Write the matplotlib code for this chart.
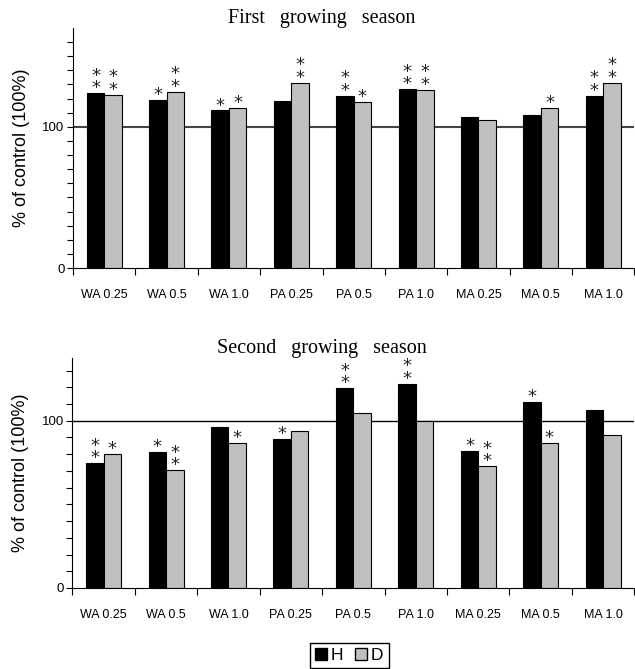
import matplotlib
matplotlib.use('Agg')
from matplotlib import pyplot as plt
from matplotlib.patches import Patch
import numpy as np

# treatments and values (% of control)
labels = ['WA 0.25', 'WA 0.5', 'WA 1.0', 'PA 0.25', 'PA 0.5', 'PA 1.0',
          'MA 0.25', 'MA 0.5', 'MA 1.0']

first_H = [123.8, 119.3, 111.6, 118.2, 121.9, 126.7, 106.8, 108.7, 121.9]
first_D = [122.9, 124.8, 113.2, 131.4, 117.9, 126.4, 104.7, 113.2, 131.4]
first_H_sig = ['**', '*', '*', '', '**', '**', '', '', '**']
first_D_sig = ['**', '**', '*', '**', '*', '**', '', '*', '**']

second_H = [74.7, 81.2, 96.4, 89.2, 119.4, 122.0, 82.0, 111.4, 106.6]
second_D = [80.2, 70.5, 86.6, 93.8, 104.8, 100.0, 72.9, 86.6, 91.4]
second_H_sig = ['**', '*', '', '*', '**', '**', '*', '*', '']
second_D_sig = ['*', '**', '*', '', '', '', '**', '*', '']

sans = ['Liberation Sans Narrow', 'Liberation Sans', 'DejaVu Sans']
plt.rcParams['font.family'] = ['Liberation Sans', 'DejaVu Sans']

fig = plt.figure(figsize=(6.35, 6.69), dpi=100)
ax1 = fig.add_axes([0.115, 0.5994, 0.884, 0.3587])
ax2 = fig.add_axes([0.114, 0.1211, 0.885, 0.3438])

x = np.arange(len(labels))
w = 0.28


def draw(ax, H, D, Hs, Ds, top, title, title_y, hline_color, hline_lw):
    ax.bar(x - w / 2, H, w, color='black', edgecolor='black', linewidth=0.8)
    ax.bar(x + w / 2, D, w, color='#c0c0c0', edgecolor='black', linewidth=0.8)
    ax.axhline(100, color=hline_color, linewidth=hline_lw, zorder=0.5)
    for xs, vals, sig in [(x - w / 2, H, Hs), (x + w / 2, D, Ds)]:
        for xi, v, s in zip(xs, vals, sig):
            if s:
                ax.annotate('\n'.join(s), (xi, v), xytext=(0, -3),
                            textcoords='offset points', ha='center',
                            va='bottom', fontsize=13, linespacing=0.62,
                            color='#222222', family=['DejaVu Sans'])
    ax.set_xlim(-0.5, len(labels) - 0.5)
    ax.set_ylim(0, top)
    ax.spines['top'].set_visible(False)
    ax.spines['right'].set_visible(False)
    ax.set_yticks([0, 100])
    ax.set_yticks(np.arange(10, top, 10), minor=True)
    ax.tick_params(axis='y', which='both', length=4, width=0.8, labelsize=9.5, pad=2)
    ax.set_xticks(np.arange(-0.5, len(labels), 1.0))
    ax.set_xticklabels([])
    ax.set_xticks(x, minor=True)
    ax.set_xticklabels(labels, minor=True, fontsize=9, family=sans)
    ax.tick_params(axis='x', which='major', length=5, width=0.8)
    ax.tick_params(axis='x', which='minor', length=0, pad=15)
    ax.set_ylabel('% of control (100%)', fontsize=13, labelpad=9)
    fig.text(0.507, title_y, title, family=['Liberation Serif'], fontsize=14.5,
             ha='center', va='center')


draw(ax1, first_H, first_D, first_H_sig, first_D_sig, 170,
     'First   growing   season', 1 - 18 / 669, '#444444', 1.5)
draw(ax2, second_H, second_D, second_H_sig, second_D_sig, 137.5,
     'Second   growing   season', 1 - 349 / 669, 'black', 1.0)

handles = [Patch(facecolor='black', edgecolor='black'),
           Patch(facecolor='#c0c0c0', edgecolor='black')]
fig.legend(handles, ['H', 'D'], loc='upper center', bbox_to_anchor=(0.55, 0.04 + 8 / 669),
           ncol=2, fontsize=12.5, handlelength=0.7, handleheight=0.7,
           handletextpad=0.2, columnspacing=0.7, fancybox=False,
           edgecolor='black', framealpha=1, borderpad=0.3)

fig.savefig('out.png', dpi=100)
